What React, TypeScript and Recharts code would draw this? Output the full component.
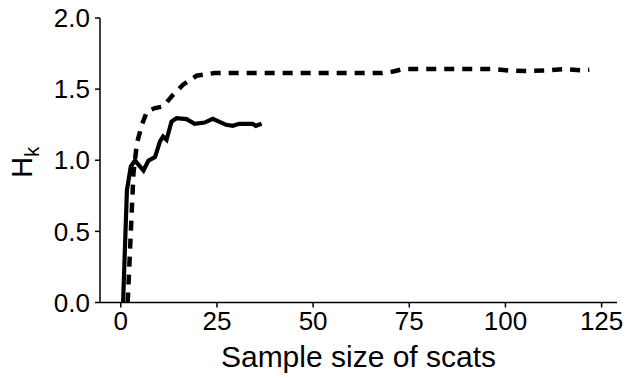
import React from 'react';
import { LineChart, Line, XAxis, YAxis, Label } from 'recharts';

// Solid curve (first series)
const solidX = [0.6, 1.6, 2.6, 3.7, 5.9, 7.2, 8.9, 10.2, 11.0, 11.9, 13.2, 14.5, 17.1, 19.2, 21.8, 23.9, 27.4, 29.1, 30.8, 34.3, 35.1, 36.6];
const solidY = [0.0, 0.79, 0.956, 0.998, 0.928, 0.998, 1.022, 1.132, 1.167, 1.144, 1.272, 1.296, 1.289, 1.256, 1.265, 1.291, 1.249, 1.242, 1.256, 1.256, 1.242, 1.256];

// Dashed curve (second series)
const dashedX = [1.8, 2.6, 3.3, 4.2, 5.5, 6.8, 8.9, 11.0, 13.6, 16.2, 19.7, 24.4, 40, 55, 68, 70.8, 73.4, 85, 97, 101, 106, 110.8, 115, 119.8, 121.8];
const dashedY = [0.0, 0.487, 0.909, 1.12, 1.249, 1.343, 1.367, 1.378, 1.46, 1.531, 1.594, 1.613, 1.613, 1.613, 1.613, 1.624, 1.641, 1.641, 1.641, 1.631, 1.627, 1.632, 1.641, 1.632, 1.636];

const xTicks = [0, 25, 50, 75, 100, 125];
const yTicks = [0, 0.5, 1.0, 1.5, 2.0];

const solidData = solidX.map((x, i) => ({ x, y: solidY[i] }));
const dashedData = dashedX.map((x, i) => ({ x, y: dashedY[i] }));

const FONT = 'Liberation Sans, Arial, sans-serif';

const YLabel = (props: any) => {
  const vb = props.viewBox || {};
  const cx = 32;
  const cy = vb.y + vb.height / 2 + 2;
  return (
    <text
      x={cx}
      y={cy}
      transform={`rotate(-90, ${cx}, ${cy})`}
      textAnchor="middle"
      fontFamily={FONT}
      fontSize={29}
      fill="#000"
    >
      H<tspan fontSize={20} dy={7}>k</tspan>
    </text>
  );
};

export default function App() {
  return (
    <div style={{ position: 'absolute', left: 0, top: 0, width: 627, height: 378, background: '#fff' }}>
      <LineChart width={627} height={378} margin={{ top: 18, right: 10, bottom: 0, left: 0 }}>
        <XAxis
          dataKey="x"
          type="number"
          domain={[-5.4, 129]}
          ticks={xTicks}
          allowDataOverflow
          height={75.5}
          tickSize={5}
          tickMargin={4}
          stroke="#000"
          strokeWidth={1.5}
          tick={{ fill: '#000', fontSize: 26, fontFamily: FONT }}
        >
          <Label
            value="Sample size of scats"
            position="insideBottom"
            offset={11}
            style={{ fill: '#000', fontSize: 30, fontFamily: FONT }}
          />
        </XAxis>
        <YAxis
          dataKey="y"
          type="number"
          domain={[0, 2]}
          ticks={yTicks}
          allowDataOverflow
          width={100}
          tickSize={5}
          tickMargin={5}
          stroke="#000"
          strokeWidth={1.5}
          tickFormatter={(v: number) => v.toFixed(1)}
          tick={{ fill: '#000', fontSize: 26, fontFamily: FONT }}
          label={<YLabel />}
        />
        <Line
          data={dashedData}
          dataKey="y"
          type="linear"
          stroke="#000"
          strokeWidth={4.5}
          strokeDasharray="10 8"
          dot={false}
          isAnimationActive={false}
        />
        <Line
          data={solidData}
          dataKey="y"
          type="linear"
          stroke="#000"
          strokeWidth={4.2}
          dot={false}
          isAnimationActive={false}
        />
      </LineChart>
    </div>
  );
}
